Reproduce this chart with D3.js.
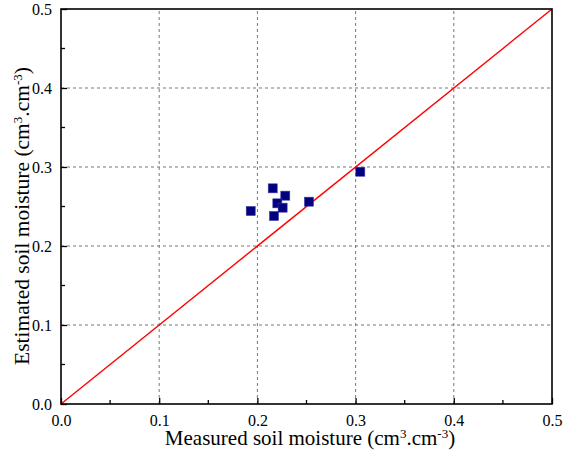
<!DOCTYPE html>
<html>
<head>
<meta charset="utf-8">
<script src="https://cdn.jsdelivr.net/npm/d3@7"></script>
<style>
  body { margin: 0; background: #fff; }
  svg { display: block; }
  svg text { font-family: "Liberation Serif", "Times New Roman", serif; fill: #000; }
</style>
</head>
<body>
<svg id="chart" width="563" height="454"></svg>
<script>
// Measured vs estimated soil moisture (cm3/cm3)
const measured  = [0.2156, 0.2284, 0.2203, 0.2257, 0.2169, 0.1932, 0.2525, 0.3048];
const estimated = [0.2730, 0.2637, 0.2540, 0.2485, 0.2380, 0.2443, 0.2561, 0.2940];
const tickValues = [0, 0.1, 0.2, 0.3, 0.4, 0.5];
const minorTicks = [0.05, 0.15, 0.25, 0.35, 0.45];
const oneToOne = [0, 0.5];

const serif = "Liberation Serif";
const svg = d3.select("#chart");
const margin = { left: 61, right: 11, top: 9, bottom: 50 };
const W = 563, H = 454;
const x = d3.scaleLinear().domain([0, 0.5]).range([margin.left, W - margin.right]);
const y = d3.scaleLinear().domain([0, 0.5]).range([H - margin.bottom, margin.top]);

// dashed grid at major ticks
const grid = svg.append("g").attr("stroke", "#777").attr("stroke-width", 1).attr("stroke-dasharray", "3,3");
grid.selectAll("line.vx").data(tickValues.slice(1, -1)).join("line")
  .attr("x1", d => x(d)).attr("x2", d => x(d))
  .attr("y1", y(0)).attr("y2", y(0.5));
grid.selectAll("line.hy").data(tickValues.slice(1, -1)).join("line")
  .attr("y1", d => y(d)).attr("y2", d => y(d))
  .attr("x1", x(0)).attr("x2", x(0.5));

// 1:1 line
svg.append("line")
  .attr("x1", x(oneToOne[0])).attr("y1", y(oneToOne[0]))
  .attr("x2", x(oneToOne[1])).attr("y2", y(oneToOne[1]))
  .attr("stroke", "#ff0000").attr("stroke-width", 1.4);

// scatter points
const s = 9;
svg.append("g").selectAll("rect").data(measured.map((m, i) => [m, estimated[i]])).join("rect")
  .attr("x", d => x(d[0]) - s / 2).attr("y", d => y(d[1]) - s / 2)
  .attr("width", s).attr("height", s)
  .attr("fill", "#000080").attr("stroke", "#3a3aa8").attr("stroke-width", 0.6);

// axes with inward ticks
const xAxis = d3.axisBottom(x).tickValues(tickValues).tickFormat(d3.format(".1f")).tickSizeInner(-6).tickSizeOuter(0).tickPadding(11);
const yAxis = d3.axisLeft(y).tickValues(tickValues).tickFormat(d3.format(".1f")).tickSizeInner(-6).tickSizeOuter(0).tickPadding(9);

const gx = svg.append("g").attr("transform", `translate(0,${y(0)})`).call(xAxis);
const gy = svg.append("g").attr("transform", `translate(${x(0)},0)`).call(yAxis);
[gx, gy].forEach(g => {
  g.attr("font-family", serif).attr("font-size", 16);
  g.select(".domain").remove();
  g.selectAll("line").attr("stroke", "#000").attr("stroke-width", 1.3);
  g.selectAll("text").attr("font-family", serif).attr("font-size", 16);
});

// minor ticks
svg.append("g").selectAll("line").data(minorTicks).join("line")
  .attr("x1", d => x(d)).attr("x2", d => x(d)).attr("y1", y(0)).attr("y2", y(0) - 4)
  .attr("stroke", "#000").attr("stroke-width", 1.3);
svg.append("g").selectAll("line").data(minorTicks).join("line")
  .attr("y1", d => y(d)).attr("y2", d => y(d)).attr("x1", x(0)).attr("x2", x(0) + 4)
  .attr("stroke", "#000").attr("stroke-width", 1.3);

// frame
svg.append("rect")
  .attr("x", x(0)).attr("y", y(0.5))
  .attr("width", x(0.5) - x(0)).attr("height", y(0) - y(0.5))
  .attr("fill", "none").attr("stroke", "#000").attr("stroke-width", 1.6);

// axis titles
function title(sel, label, fs) {
  sel.attr("font-family", serif).attr("font-size", fs).attr("text-anchor", "middle");
  sel.append("tspan").text(label + " (cm");
  sel.append("tspan").attr("font-size", 13).attr("dy", -7).text("3");
  sel.append("tspan").attr("dy", 7).text(".cm");
  sel.append("tspan").attr("font-size", 13).attr("dy", -7).text("-3");
  sel.append("tspan").attr("dy", 7).text(")");
}
title(svg.append("text").attr("x", 310).attr("y", 445), "Measured soil moisture", 21);
title(svg.append("text")
  .attr("transform", "translate(29,216) rotate(-90)"), "Estimated soil moisture", 21.5);
</script>
</body>
</html>
